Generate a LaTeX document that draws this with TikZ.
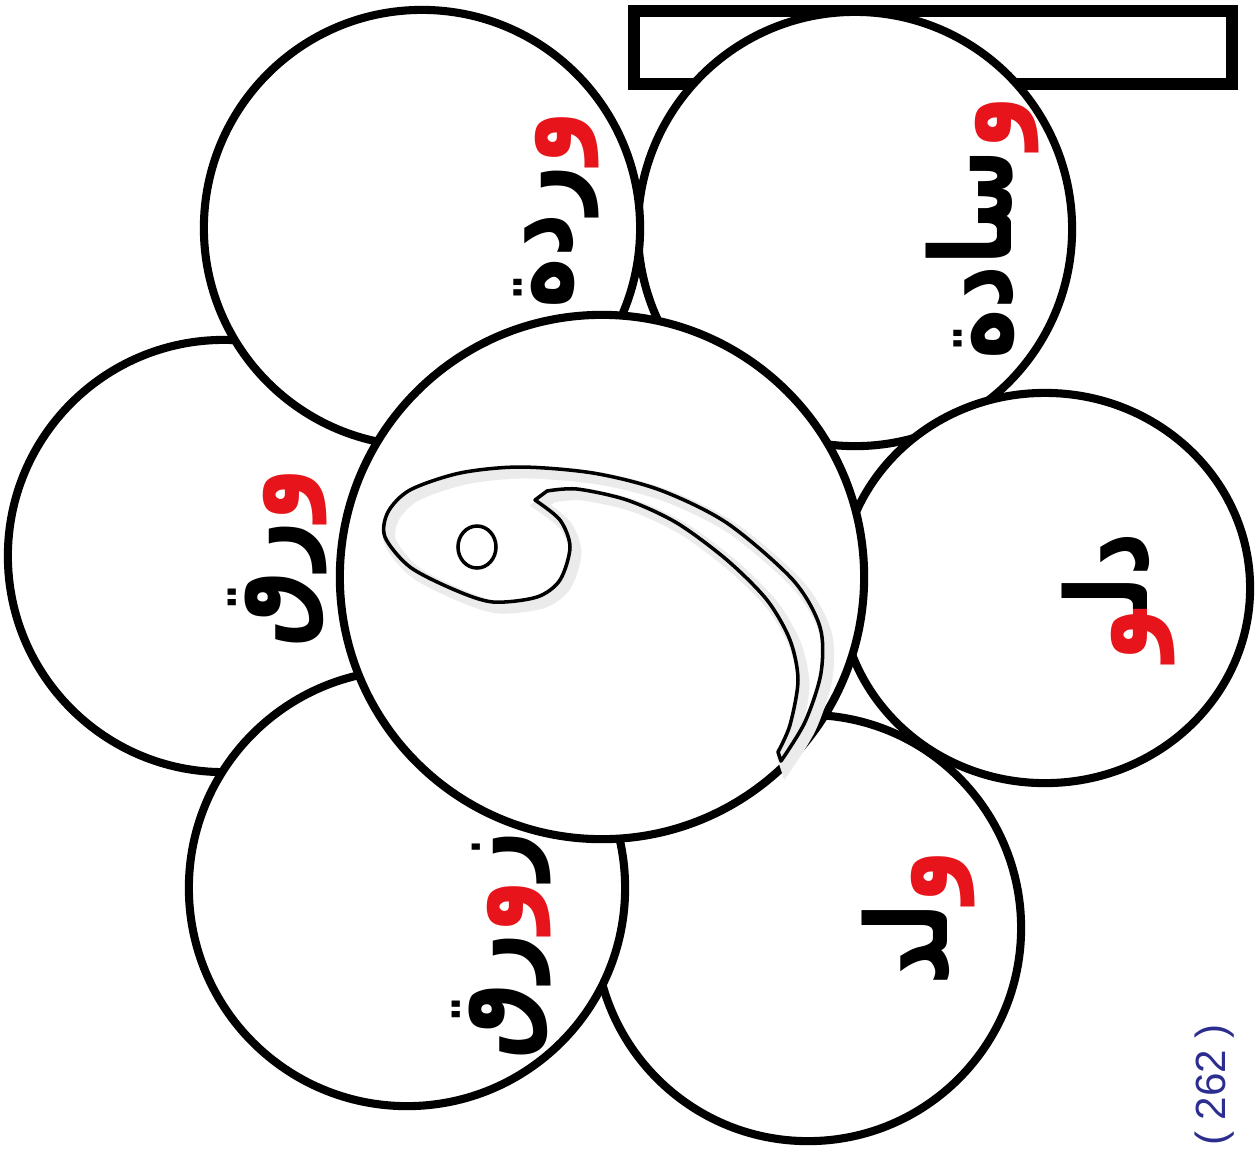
\documentclass[tikz,border=0pt]{standalone}
\usepackage{fontspec}
\usepackage{xcolor}
\usepackage{tikz}
\usetikzlibrary{positioning,shapes.geometric}
\newfontfamily\arabicfont[Script=Arabic, FakeStretch=0.76]{DejaVu Sans}
\newfontfamily\numfont{Liberation Sans}
\definecolor{ink}{HTML}{000000}
\definecolor{wred}{HTML}{E8141B}
\definecolor{pnum}{HTML}{2B2E8F}
\newcommand{\waw}{\textcolor{wred}{و}}
\newcommand{\wawend}{\textcolor{wred}{^^^^200dو}}
\tikzset{
  petal/.style={draw=ink, fill=white, line width=2.3pt, circle, inner sep=0pt},
  word/.style={font=\arabicfont\bfseries\fontsize{32}{38}\selectfont, rotate=90, inner sep=0pt},
}

\begin{document}
\begin{tikzpicture}[x=0.01cm, y=-0.01cm]
\useasboundingbox (0,0) rectangle (1259,1153);
% empty title box
\node[draw=ink, line width=3.3pt, minimum width=5.98cm, minimum height=0.73cm, inner sep=0pt] (title) at (933,47.5) {};
% petals: the lower three first
\node[petal, minimum size=4.34cm] (pillow) at (855,229) {};
\node[petal, minimum size=4.26cm] (boy) at (808,928) {};
\node[petal, minimum size=4.32cm] (paper) at (224,556) {};
\node[petal, minimum size=4.36cm] (rose) at (422,228) {};
\node[petal, ellipse, minimum width=4.1cm, minimum height=3.9cm] (bucket) at (1045,588) {};
\node[petal, minimum size=4.36cm] (boat) at (407,888) {};
% heart of the flower
\node[petal, minimum size=5.24cm] (core) at (602,577) {};
\draw[ink, line width=1pt, line join=round, preaction={draw=black!8, line width=3.5pt, transform canvas={shift={(1.5pt,-1.5pt)}}}]
  plot[smooth] coordinates {(535,500) (560,520) (570,547) (560,580) (537,597) (493,602)
    (455,590) (410,567) (385,537) (388,512) (410,490) (460,473) (520,467) (593,473)
    (660,490) (727,523) (793,580) (820,627) (821,673) (805,722) (781,761)}
  -- plot[smooth] coordinates {(778,752) (790,725) (798,680) (790,640) (767,600)
    (727,560) (677,523) (627,500) (577,489) (547,491)} -- cycle;
\draw[ink, line width=1pt] (477,547) ellipse[x radius=0.19cm, y radius=0.21cm];
% words
\node[word] (pillow-w) at (982,228) {سادة\waw};
\node[word] (rose-w) at (556,210) {ردة\waw};
\node[word] (paper-w) at (278,558) {رق\waw};
\node[word] (boat-w) at (502,945) {رق\waw ز};
\node[word] (boy-w) at (918,918) {لد\waw};
\node[word] (bucket-w) at (1118,597) {\wawend دل^^^^200d};
% page number
\node[pnum, font=\numfont\fontsize{12}{14}\selectfont, rotate=90, inner sep=0pt] (page) at (1215,1085) {( 262 )};
\end{tikzpicture}
\end{document}
